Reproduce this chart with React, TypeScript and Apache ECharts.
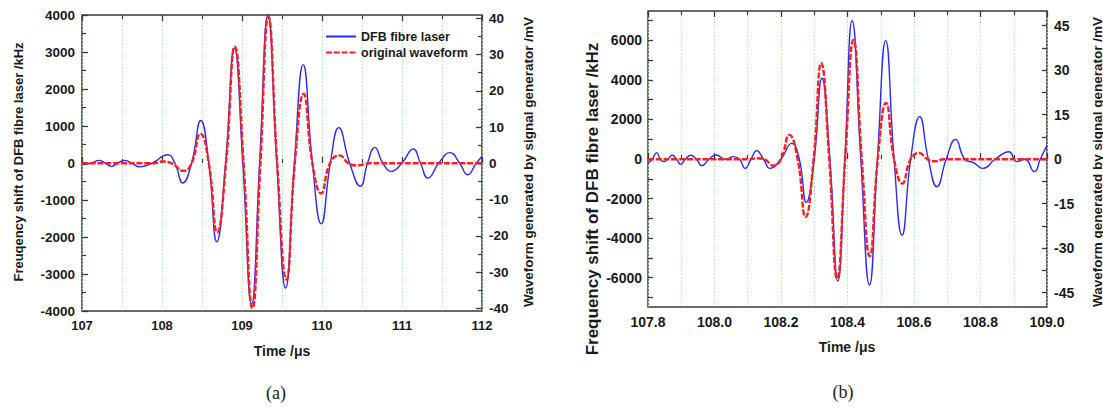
import React, { useEffect, useRef } from "react";
import * as echarts from "echarts";

// ---------- data ----------
// Panel (a): time in microseconds, frequency shift in kHz (blue), waveform in mV (red)
const BLUE_A: [number, number][] = [
  [107.0, -40], [107.12, 0], [107.21, 70], [107.29, 0], [107.37, -92], [107.45, 0],
  [107.53, 70], [107.62, 0], [107.72, -105], [107.88, 0], [108.07, 224], [108.16, 0],
  [108.26, -540], [108.37, 0], [108.485, 1150], [108.585, 0], [108.685, -2130], [108.795, 0],
  [108.905, 3110], [109.01, 0], [109.12, -3820], [109.22, 0], [109.325, 4000], [109.435, 0],
  [109.545, -3380], [109.655, 0], [109.765, 2660], [109.88, 0], [109.99, -1645], [110.105, 0],
  [110.21, 955], [110.345, 0], [110.48, -630], [110.57, 0], [110.66, 422], [110.76, 0],
  [110.87, -225], [111.0, 0], [111.14, 378], [111.23, 0], [111.325, -405], [111.46, 0],
  [111.6, 280], [111.72, 0], [111.82, -316], [111.93, 0], [112.0, 178],
];
const RED_A: [number, number][] = [
  [107.0, 0], [107.9, 0], [108.0, 0.5], [108.12, 0], [108.27, -2.1], [108.37, 0],
  [108.48, 8.2], [108.585, 0], [108.69, -19], [108.8, 0], [108.91, 32.2], [109.02, 0],
  [109.13, -40], [109.23, 0], [109.33, 40.4], [109.44, 0], [109.555, -32.1], [109.66, 0],
  [109.77, 19.1], [109.88, 0], [109.99, -8.3], [110.1, 0], [110.22, 2.2], [110.33, 0],
  [110.45, -0.6], [110.6, 0], [112.0, 0],
];
// Panel (b)
const BLUE_B: [number, number][] = [
  [107.8, -219], [107.813, 0], [107.826, 320], [107.837, 0], [107.848, -135], [107.86, 0],
  [107.873, 186], [107.886, 0], [107.898, -270], [107.913, 0], [107.928, 186], [107.945, 0],
  [107.962, -337], [107.984, 0], [108.005, 202], [108.032, -15], [108.057, 118], [108.075, 0],
  [108.092, -472], [108.11, 0], [108.127, 421], [108.147, 0], [108.167, -472], [108.2, 0],
  [108.232, 792], [108.255, 0], [108.276, -2190], [108.3, 0], [108.323, 4078], [108.347, 0],
  [108.371, -6168], [108.392, 0], [108.414, 6993], [108.44, 0], [108.466, -6370], [108.49, 0],
  [108.515, 5982], [108.54, 0], [108.564, -3859], [108.59, 0], [108.617, 2140], [108.643, 0],
  [108.669, -1399], [108.697, 0], [108.725, 994], [108.752, 0], [108.78, -190], [108.807, -472],
  [108.845, 0], [108.885, 370], [108.91, -135], [108.933, -15], [108.962, -640], [108.98, 0],
  [109.0, 690],
];
const RED_B: [number, number][] = [
  [107.8, 0], [108.1, 0], [108.13, 0.3], [108.15, 0], [108.177, -2.2], [108.2, 0],
  [108.225, 8.2], [108.25, 0], [108.274, -19.5], [108.298, 0], [108.321, 32.4], [108.345, 0],
  [108.369, -40.3], [108.393, 0], [108.418, 40.2], [108.443, 0], [108.467, -32.7], [108.491, 0],
  [108.516, 19.0], [108.54, 0], [108.565, -8.2], [108.59, 0], [108.616, 2.1], [108.64, 0],
  [108.663, -0.7], [108.69, 0], [109.0, 0],
];

const SERIES_NAMES = ["DFB fibre laser", "original waveform"];
const A_TIME = [107, 112, 1];
const A_LEFT = [-4000, 4000, 1000];
const A_RIGHT = [-40, 40, 10];
const B_TIME = [107.8, 109.0, 0.2];
const B_LEFT = [-7000, 7000, 1000];
const B_RIGHT = [-45, 45, 7.5];

const FONT = '"Liberation Sans", Arial, Helvetica, sans-serif';
const SERIF = '"Liberation Serif", "Times New Roman", serif';
const AX = "#3a3a3a";
const TXT = "#1a1a1a";
const GREEN = "#a3e8a3";
const BLUE = "#2b2bf5";
const RED = "#ff1f1f";

export default function App() {
  const ref = useRef<HTMLDivElement>(null);
  useEffect(() => {
    const chart = echarts.init(ref.current!, null, { renderer: "svg" });
    const lbl = (size: number, margin: number, extra: any = {}) => ({
      fontFamily: FONT, fontWeight: "bold", fontSize: size, color: TXT, margin, ...extra,
    });
    const tick = (len: number) => ({ inside: true, length: len, lineStyle: { color: AX, width: 1.3 } });
    const minor = (n: number, len: number) => ({ show: true, splitNumber: n, length: len, lineStyle: { color: AX, width: 1.2 } });
    const green = { show: true, lineStyle: { color: GREEN, type: [1.5, 2], width: 1 } };
    const hiddenX = (g: number, r: number[]) => ({ type: "value", gridIndex: g, min: r[0], max: r[1], show: false });
    const nameText = (text: string, x: number, y: number, size: number) => ({
      type: "text", x, y, rotation: Math.PI / 2, silent: true,
      style: { text, fontFamily: FONT, fontWeight: "bold", fontSize: size, fill: TXT,
        align: "center", verticalAlign: "middle", textAlign: "center", textVerticalAlign: "middle" },
    });
    const plainText = (text: string, x: number, y: number, size: number, family: string, weight: string) => ({
      type: "text", x, y, silent: true,
      style: { text, fontFamily: family, fontWeight: weight, fontSize: size, fill: TXT,
        align: "center", verticalAlign: "middle", textAlign: "center", textVerticalAlign: "middle" },
    });
    const line = (name: string, xi: number, yi: number, data: [number, number][], isRed: boolean) => ({
      name, type: "line", xAxisIndex: xi, yAxisIndex: yi, data, smooth: true, symbol: "none",
      showSymbol: false, clip: false,
      itemStyle: { color: isRed ? RED : BLUE },
      lineStyle: isRed ? { color: RED, width: 2.4, type: [6, 1.8] } : { color: BLUE, width: 1.4 },
      z: isRed ? 4 : 3,
    });

    chart.setOption({
      animation: false,
      backgroundColor: "#ffffff",
      grid: [
        { left: 82, top: 15, width: 400, height: 296, show: true, borderColor: AX, borderWidth: 1.5, backgroundColor: "transparent" },
        { left: 82, top: 18.3, width: 400, height: 290 },
        { left: 648, top: 11, width: 399, height: 296, show: true, borderColor: AX, borderWidth: 1.5, backgroundColor: "transparent" },
        { left: 648, top: 20.5, width: 399, height: 277 },
        { left: 648, top: 25.7, width: 399, height: 267 },
      ],
      xAxis: [
        { type: "value", gridIndex: 0, min: A_TIME[0], max: A_TIME[1], interval: A_TIME[2], position: "bottom",
          axisLine: { show: false }, axisTick: tick(6), minorTick: minor(2, 4),
          splitLine: green, minorSplitLine: green,
          axisLabel: lbl(13, 8, { formatter: (v: number) => String(v) }) },
        { type: "value", gridIndex: 0, min: A_TIME[0], max: A_TIME[1], interval: A_TIME[2], position: "top",
          axisLine: { show: false }, axisTick: tick(6), minorTick: minor(2, 4),
          splitLine: { show: false }, axisLabel: { show: false } },
        hiddenX(1, A_TIME),
        { type: "value", gridIndex: 2, min: B_TIME[0], max: B_TIME[1], interval: B_TIME[2], position: "bottom",
          axisLine: { show: false }, axisTick: tick(6), minorTick: minor(2, 4),
          splitLine: green, minorSplitLine: green,
          axisLabel: lbl(14, 8, { formatter: (v: number) => v.toFixed(1) }) },
        { type: "value", gridIndex: 2, min: B_TIME[0], max: B_TIME[1], interval: B_TIME[2], position: "top",
          axisLine: { show: false }, axisTick: tick(6), minorTick: minor(2, 4),
          splitLine: { show: false }, axisLabel: { show: false } },
        hiddenX(3, B_TIME),
        hiddenX(4, B_TIME),
      ],
      yAxis: [
        { type: "value", gridIndex: 0, min: A_LEFT[0], max: A_LEFT[1], interval: A_LEFT[2], position: "left",
          axisLine: { show: false }, axisTick: tick(6), minorTick: minor(2, 4),
          splitLine: { show: false },
          axisLabel: lbl(13.5, 7, { formatter: (v: number) => String(Math.round(v)) }) },
        { type: "value", gridIndex: 1, min: A_RIGHT[0], max: A_RIGHT[1], interval: A_RIGHT[2], position: "right",
          axisLine: { show: false }, axisTick: tick(6), minorTick: minor(2, 4),
          splitLine: { show: false },
          axisLabel: lbl(13.5, 7, { formatter: (v: number) => String(Math.round(v)) }) },
        { type: "value", gridIndex: 2, min: -7500, max: 7500, show: false },
        { type: "value", gridIndex: 3, min: B_LEFT[0], max: B_LEFT[1], interval: B_LEFT[2], position: "left",
          axisLine: { show: false }, axisTick: tick(5),
          splitLine: { show: false },
          axisLabel: lbl(14, 6, { formatter: (v: number) => (Math.round(v) % 2000 === 0 ? String(Math.round(v)) : "") }) },
        { type: "value", gridIndex: 4, min: B_RIGHT[0], max: B_RIGHT[1], interval: B_RIGHT[2], position: "right",
          axisLine: { show: false }, axisTick: tick(5),
          splitLine: { show: false },
          axisLabel: lbl(14, 7, { formatter: (v: number) => (Math.abs(v % 15) < 1e-6 ? String(Math.round(v)) : "") }) },
      ],
      legend: {
        left: 325, top: 30, orient: "vertical", padding: 0, itemWidth: 30, itemHeight: 14, itemGap: 3,
        itemTextGap: 6, selectedMode: false,
        itemStyle: { opacity: 0 },
        data: SERIES_NAMES.map((n) => ({ name: n, itemStyle: { opacity: 0 } })),
        textStyle: { fontFamily: FONT, fontWeight: "bold", fontSize: 12.5, color: TXT },
      },
      series: [
        line(SERIES_NAMES[0], 0, 0, BLUE_A, false),
        line(SERIES_NAMES[1], 2, 1, RED_A, true),
        line(SERIES_NAMES[0], 5, 3, BLUE_B, false),
        line(SERIES_NAMES[1], 6, 4, RED_B, true),
      ],
      graphic: [
        nameText("Freuqency shift of DFB fibre laser /kHz", 18.5, 162, 13),
        nameText("Waveform generated by signal generator /mV", 528, 162, 13.5),
        nameText("Frequency shift of DFB fibre laser /kHz", 592, 199, 17),
        nameText("Waveform generated by signal generator /mV", 1097, 162, 13.5),
        plainText("Time /μs", 282, 351, 14, FONT, "bold"),
        plainText("Time /μs", 847, 347, 14, FONT, "bold"),
        plainText("(a)", 276, 393, 18, SERIF, "normal"),
        plainText("(b)", 843, 392, 18, SERIF, "normal"),
      ],
    });
    return () => chart.dispose();
  }, []);
  return (
    <div
      ref={ref}
      style={{ position: "fixed", left: 0, top: 0, width: 1103, height: 407, background: "#fff" }}
    />
  );
}
